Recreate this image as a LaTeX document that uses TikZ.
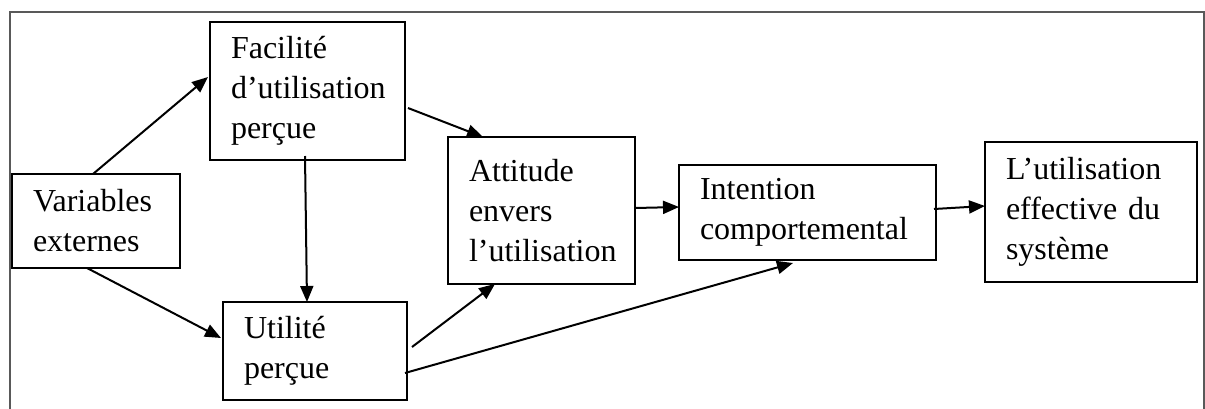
\documentclass[tikz,border=0pt]{standalone}
\usepackage{fontspec}
\setmainfont{Liberation Serif}
\usetikzlibrary{arrows.meta}
\begin{document}
\begin{tikzpicture}[x=1pt,y=-1pt,
  box/.style={draw=black, line width=2pt, anchor=north west, outer sep=0pt,
    inner xsep=21pt, inner ysep=0pt, align=left,
    font=\fontsize{32}{40}\selectfont},
  conn/.style={line width=2pt, -{Triangle[length=16pt,width=13pt]}},
  frame/.style={draw=black!65, line width=2.2pt}]
\useasboundingbox (0,0) rectangle (1205,408);
\clip (0,0) rectangle (1205,408);
\draw[frame] (10,430) -- (10,12) -- (1204,12) -- (1204,430);

\node[box, minimum width=195pt, minimum height=138pt, text width=153pt] (fac) at (210,22) {Facilité\\d’utilisation\\perçue};
\node[box, minimum width=168pt, minimum height=94pt, text width=126pt] (var) at (12,174) {Variables\\externes};
\node[box, minimum width=184pt, minimum height=98pt, text width=142pt] (uti) at (223,302) {Utilité\\perçue};
\node[box, minimum width=187pt, minimum height=147pt, text width=145pt] (att) at (448,137) {Attitude\\envers\\l’utilisation};
\node[box, minimum width=257pt, minimum height=95pt, text width=215pt] (int) at (679,165) {Intention\\comportemental};
\node[box, minimum width=212pt, minimum height=140pt, text width=170pt] (eff) at (985,142) {L’utilisation\\effective du\\système};

\draw[conn] ([xshift=81pt]var.north west) -- ([xshift=-2pt,yshift=-55pt]fac.north west);
\draw[conn] ([xshift=75pt]var.south west) -- ([xshift=-2pt,yshift=-36pt]uti.north west);
\draw[conn] ([xshift=95pt,yshift=4pt]fac.south west) -- ([xshift=84pt]uti.north west);
\draw[conn] ([xshift=3pt,yshift=-86pt]fac.north east) -- ([xshift=35pt]att.north west);
\draw[conn] ([xshift=5pt,yshift=-45pt]uti.north east) -- ([xshift=47pt]att.south west);
\draw[conn] ([xshift=-2pt,yshift=-71pt]uti.north east) -- ([xshift=114pt,yshift=-3pt]int.south west);
\draw[conn] ([yshift=-71pt]att.north east) -- ([yshift=-42pt]int.north west);
\draw[conn] ([xshift=-2pt,yshift=-44pt]int.north east) -- ([yshift=-64pt]eff.north west);
\end{tikzpicture}
\end{document}
